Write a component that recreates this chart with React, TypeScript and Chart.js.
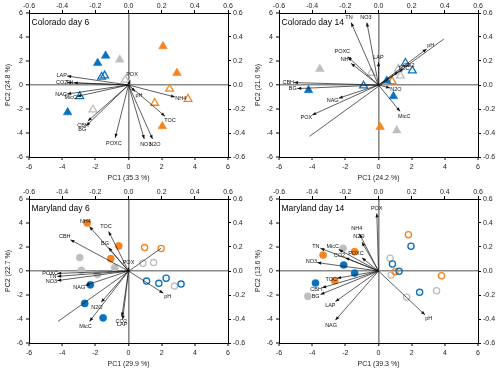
import React, { useEffect, useRef } from 'react';
import { Chart, registerables } from 'chart.js';

Chart.register(...registerables);

type Pt = [number, number];
type Vec = [string, number, number];

const FONT = '"Liberation Sans", Arial, Helvetica, sans-serif';
const BLUE = '#0A71BE';
const ORANGE = '#F5841F';
const GREY = '#BEBEBE';

// ---- labels / ticks ----
const panelTitles = ['Colorado day 6', 'Colorado day 14', 'Maryland day 6', 'Maryland day 14'];
const pc1Titles = ['PC1 (35.3 %)', 'PC1 (24.2 %)', 'PC1 (29.9 %)', 'PC1 (39.3 %)'];
const pc2Titles = ['PC2 (24.8 %)', 'PC2 (21.0 %)', 'PC2 (22.7 %)', 'PC2 (13.6 %)'];
const scoreTicks = [-6, -4, -2, 0, 2, 4, 6];
const loadingTicks = [-0.6, -0.4, -0.2, 0, 0.2, 0.4, 0.6];
const loadingTickLabels = ['-0.6', '-0.4', '-0.2', '0.0', '0.2', '0.4', '0.6'];

// ---- Colorado day 6 scores ----
const co6BlueFilled: Pt[] = [[-1.38, 2.44], [-1.86, 1.83], [-3.67, -2.28]];
const co6OrangeFilled: Pt[] = [[2.08, 3.22], [2.92, 1.0], [2.04, -3.44]];
const co6GreyFilled: Pt[] = [[-0.53, 2.11]];
const co6BlueOpen: Pt[] = [[-1.44, 0.78], [-1.62, 0.67], [-2.94, -0.94]];
const co6OrangeOpen: Pt[] = [[2.48, -0.33], [3.59, -1.17], [1.58, -1.5]];
const co6GreyOpen: Pt[] = [[-2.14, -2.06], [-0.2, 0.42]];
const co6Loadings: Vec[] = [
  ['LAP', -0.37, 0.075], ['CO2', -0.37, 0.02], ['TN', -0.33, 0.018], ['NAG', -0.37, -0.075],
  ['MicC', -0.31, -0.095], ['CBH', -0.245, -0.3], ['BG', -0.255, -0.34], ['POXC', -0.08, -0.44],
  ['NO3', 0.095, -0.45], ['N2O', 0.145, -0.45], ['TOC', 0.22, -0.26], ['NH4', 0.28, -0.1],
  ['POX', 0.01, 0.04], ['pH', 0.04, -0.055],
];
const co6Extra: Pt[] = [];

// ---- Colorado day 14 scores ----
const co14BlueFilled: Pt[] = [[-4.22, -0.44], [0.5, 0.36], [0.9, -0.94]];
const co14OrangeFilled: Pt[] = [[0.1, -3.5]];
const co14GreyFilled: Pt[] = [[-3.54, 1.33], [1.1, -3.8]];
const co14BlueOpen: Pt[] = [[-0.9, -0.06], [1.62, 1.83], [2.04, 1.2]];
const co14OrangeOpen: Pt[] = [[0.82, 0.3]];
const co14GreyOpen: Pt[] = [[-0.44, 1.0], [1.32, 0.78], [1.2, 1.35]];
const co14Loadings: Vec[] = [
  ['TN', -0.165, 0.52], ['NO3', -0.07, 0.52], ['POXC', -0.185, 0.235], ['NH4', -0.165, 0.18],
  ['LAP', 0.0, 0.19], ['CBH', -0.51, 0.02], ['BG', -0.49, -0.03], ['NAG', -0.24, -0.11],
  ['POX', -0.4, -0.25], ['pH', 0.29, 0.3], ['CO2', 0.15, 0.135], ['TOC', 0.12, 0.11],
  ['N2O', 0.07, -0.025], ['MicC', 0.13, -0.22],
];
const co14Extra: Pt[] = [[-0.416, -0.428], [0.394, 0.383]];

// ---- Maryland day 6 scores ----
const md6BlueFilled: Pt[] = [[-2.3, -1.15], [-2.64, -2.7], [-1.53, -3.9]];
const md6OrangeFilled: Pt[] = [[-2.49, 4.0], [-0.59, 2.09], [-1.07, 1.03]];
const md6GreyFilled: Pt[] = [[-2.94, 1.12], [-2.84, 0.06], [-1.88, -0.28], [-0.83, 0.28]];
const md6BlueOpen: Pt[] = [[1.09, -0.84], [1.83, -1.03], [2.27, -0.61], [3.17, -1.09]];
const md6OrangeOpen: Pt[] = [[0.97, 1.95], [1.97, 1.87]];
const md6GreyOpen: Pt[] = [[0.87, 0.64], [1.51, 0.7], [2.77, -1.26]];
const md6Loadings: Vec[] = [
  ['NH4', -0.235, 0.37], ['TOC', -0.12, 0.33], ['CBH', -0.35, 0.26], ['BG', -0.12, 0.195],
  ['POXC', -0.43, -0.02], ['TN', -0.43, -0.045], ['NO3', -0.43, -0.08], ['NAG', -0.26, -0.12],
  ['N2O', -0.165, -0.26], ['MicC', -0.235, -0.42], ['CO2', -0.04, -0.38], ['LAP', -0.035, -0.405],
  ['pH', 0.21, -0.185], ['POX', 0.0, 0.03],
];
const md6Extra: Pt[] = [[-0.425, -0.42], [0.197, 0.19]];

// ---- Maryland day 14 scores ----
const md14BlueFilled: Pt[] = [[-2.1, 0.5], [-1.44, -0.17], [-3.8, -1.0]];
const md14OrangeFilled: Pt[] = [[-3.34, 1.33], [-1.44, 1.61], [-2.64, -0.81]];
const md14GreyFilled: Pt[] = [[-4.26, -2.11], [-2.14, 1.89]];
const md14BlueOpen: Pt[] = [[1.96, 2.06], [0.84, 0.58], [1.24, -0.03], [2.48, -1.78]];
const md14OrangeOpen: Pt[] = [[1.8, 3.03], [1.0, -0.06], [3.8, -0.39]];
const md14GreyOpen: Pt[] = [[0.7, 1.06], [0.76, -0.33], [1.7, -2.19], [3.5, -1.64]];
const md14Loadings: Vec[] = [
  ['POX', -0.01, 0.48], ['NH4', -0.115, 0.31], ['N2O', -0.1, 0.24], ['TN', -0.35, 0.19],
  ['MicC', -0.24, 0.18], ['CO2', -0.2, 0.11], ['POXC', -0.1, 0.11], ['NO3', -0.37, 0.07],
  ['TOC', -0.25, -0.06], ['CBH', -0.34, -0.14], ['BG', -0.35, -0.195], ['LAP', -0.26, -0.255],
  ['NAG', -0.26, -0.41], ['pH', 0.28, -0.365],
];
const md14Extra: Pt[] = [];

interface Spec {
  idx: number;
  marker: 'triangle' | 'circle';
  groups: { pts: Pt[]; color: string; filled: boolean }[];
  loadings: Vec[];
  extra: Pt[];
}

const specs: Spec[] = [
  {
    idx: 0, marker: 'triangle', loadings: co6Loadings, extra: co6Extra,
    groups: [
      { pts: co6BlueFilled, color: BLUE, filled: true }, { pts: co6OrangeFilled, color: ORANGE, filled: true },
      { pts: co6GreyFilled, color: GREY, filled: true }, { pts: co6BlueOpen, color: BLUE, filled: false },
      { pts: co6OrangeOpen, color: ORANGE, filled: false }, { pts: co6GreyOpen, color: GREY, filled: false },
    ],
  },
  {
    idx: 1, marker: 'triangle', loadings: co14Loadings, extra: co14Extra,
    groups: [
      { pts: co14BlueFilled, color: BLUE, filled: true }, { pts: co14OrangeFilled, color: ORANGE, filled: true },
      { pts: co14GreyFilled, color: GREY, filled: true }, { pts: co14BlueOpen, color: BLUE, filled: false },
      { pts: co14OrangeOpen, color: ORANGE, filled: false }, { pts: co14GreyOpen, color: GREY, filled: false },
    ],
  },
  {
    idx: 2, marker: 'circle', loadings: md6Loadings, extra: md6Extra,
    groups: [
      { pts: md6BlueFilled, color: BLUE, filled: true }, { pts: md6OrangeFilled, color: ORANGE, filled: true },
      { pts: md6GreyFilled, color: GREY, filled: true }, { pts: md6BlueOpen, color: BLUE, filled: false },
      { pts: md6OrangeOpen, color: ORANGE, filled: false }, { pts: md6GreyOpen, color: GREY, filled: false },
    ],
  },
  {
    idx: 3, marker: 'circle', loadings: md14Loadings, extra: md14Extra,
    groups: [
      { pts: md14BlueFilled, color: BLUE, filled: true }, { pts: md14OrangeFilled, color: ORANGE, filled: true },
      { pts: md14GreyFilled, color: GREY, filled: true }, { pts: md14BlueOpen, color: BLUE, filled: false },
      { pts: md14OrangeOpen, color: ORANGE, filled: false }, { pts: md14GreyOpen, color: GREY, filled: false },
    ],
  },
];

const isZero = (c: any) => c.tick && Math.abs(c.tick.value) < 1e-9;

function biplotPlugin(title: string, vectors: Vec[]) {
  return {
    id: 'biplot' + title,
    afterDatasetsDraw(chart: any) {
      const { ctx, chartArea, scales } = chart;
      const sx = scales.x2, sy = scales.y2;
      const ox = sx.getPixelForValue(0), oy = sy.getPixelForValue(0);
      ctx.save();
      ctx.fillStyle = '#111';
      ctx.font = `5.5px ${FONT}`;
      ctx.textAlign = 'center';
      ctx.textBaseline = 'middle';
      for (const [name, lx, ly] of vectors) {
        const px = sx.getPixelForValue(lx), py = sy.getPixelForValue(ly);
        const dx = px - ox, dy = py - oy;
        const len = Math.hypot(dx, dy) || 1;
        const ux = dx / len, uy = dy / len;
        const L = 4, W = 1.6;
        ctx.beginPath();
        ctx.moveTo(px, py);
        ctx.lineTo(px - ux * L - uy * W, py - uy * L + ux * W);
        ctx.lineTo(px - ux * L + uy * W, py - uy * L - ux * W);
        ctx.closePath();
        ctx.fill();
        const w = ctx.measureText(name).width;
        const off = 1.5 + Math.abs(ux) * w * 0.35 + Math.abs(uy) * 3;
        ctx.fillText(name, px + ux * off, py + uy * off);
      }
      ctx.fillStyle = '#000';
      ctx.font = `8.5px ${FONT}`;
      ctx.textAlign = 'left';
      ctx.fillText(title, chartArea.left + 2.5, chartArea.top + 10);
      ctx.restore();
    },
  };
}

function buildConfig(spec: Spec): any {
  const datasets: any[] = [];
  for (const [, lx, ly] of spec.loadings) {
    datasets.push({
      data: [{ x: 0, y: 0 }, { x: lx, y: ly }],
      xAxisID: 'x2', yAxisID: 'y2', showLine: true,
      borderColor: '#1a1a1a', borderWidth: 0.7, pointRadius: 0,
    });
  }
  if (spec.extra.length) {
    datasets.push({
      data: spec.extra.map(([x, y]) => ({ x, y })),
      xAxisID: 'x2', yAxisID: 'y2', showLine: true,
      borderColor: '#1a1a1a', borderWidth: 0.7, pointRadius: 0,
    });
  }
  const r = spec.marker === 'triangle' ? 5 : 3.6;
  for (const g of spec.groups) {
    datasets.push({
      data: g.pts.map(([x, y]) => ({ x, y })),
      xAxisID: 'x', yAxisID: 'y',
      pointStyle: spec.marker,
      pointRadius: g.filled ? r : r - 0.5,
      pointBorderWidth: g.filled ? 0.5 : 1.3,
      pointBorderColor: g.color,
      pointBackgroundColor: g.filled ? g.color : 'rgba(255,255,255,0)',
    });
  }
  const tickFont = { family: FONT, size: 7 };
  const titleFont = { family: FONT, size: 7 };
  const baseGrid = { tickColor: '#000', tickLength: 3, tickWidth: 1 };
  return {
    type: 'scatter',
    data: { datasets },
    options: {
      animation: false,
      responsive: false,
      devicePixelRatio: 1,
      layout: { padding: 0 },
      plugins: { legend: { display: false }, tooltip: { enabled: false } },
      scales: {
        x: {
          type: 'linear', position: 'bottom', min: -6, max: 6,
          afterBuildTicks: (s: any) => { s.ticks = scoreTicks.map((v) => ({ value: v })); },
          ticks: { font: tickFont, color: '#222', padding: 3, maxRotation: 0, autoSkip: false, callback: (v: any) => String(v) },
          grid: { ...baseGrid, color: (c: any) => (isZero(c) ? '#8a8a8a' : 'rgba(0,0,0,0)'), lineWidth: (c: any) => (isZero(c) ? 1.6 : 0) },
          border: { display: true, color: '#000', width: 1 },
          title: { display: true, text: pc1Titles[spec.idx], font: titleFont, color: '#222', padding: { top: 0, bottom: 3.8 } },
          afterFit: (s: any) => { s.height = 29; },
        },
        y: {
          type: 'linear', position: 'left', min: -6, max: 6,
          afterBuildTicks: (s: any) => { s.ticks = scoreTicks.map((v) => ({ value: v })); },
          ticks: { font: tickFont, color: '#222', padding: 3, autoSkip: false, callback: (v: any) => String(v) },
          grid: { ...baseGrid, color: (c: any) => (isZero(c) ? '#8a8a8a' : 'rgba(0,0,0,0)'), lineWidth: (c: any) => (isZero(c) ? 1.6 : 0) },
          border: { display: true, color: '#000', width: 1 },
          title: { display: true, text: pc2Titles[spec.idx], font: titleFont, color: '#222', padding: { top: 4, bottom: 0 } },
          afterFit: (s: any) => { s.width = 29; },
        },
        x2: {
          type: 'linear', position: 'top', min: -0.6, max: 0.6,
          afterBuildTicks: (s: any) => { s.ticks = loadingTicks.map((v) => ({ value: v })); },
          ticks: { font: tickFont, color: '#222', padding: 0, maxRotation: 0, autoSkip: false, callback: (_v: any, i: number) => loadingTickLabels[i] },
          grid: { ...baseGrid, drawOnChartArea: false, color: 'rgba(0,0,0,0)' },
          border: { display: true, color: '#000', width: 1 },
          afterFit: (s: any) => { s.height = 13; },
        },
        y2: {
          type: 'linear', position: 'right', min: -0.6, max: 0.6,
          afterBuildTicks: (s: any) => { s.ticks = loadingTicks.map((v) => ({ value: v })); },
          ticks: { font: tickFont, color: '#222', padding: 2, autoSkip: false, callback: (_v: any, i: number) => loadingTickLabels[i] },
          grid: { ...baseGrid, drawOnChartArea: false, color: 'rgba(0,0,0,0)' },
          border: { display: true, color: '#000', width: 1 },
          afterFit: (s: any) => { s.width = 22; },
        },
      },
    },
    plugins: [biplotPlugin(panelTitles[spec.idx], spec.loadings)],
  };
}

function Panel({ spec, left, top }: { spec: Spec; left: number; top: number }) {
  const ref = useRef<HTMLCanvasElement>(null);
  useEffect(() => {
    if (!ref.current) return;
    const chart = new Chart(ref.current, buildConfig(spec));
    return () => chart.destroy();
  }, [spec]);
  return (
    <canvas
      ref={ref}
      width={250}
      height={186}
      style={{ position: 'absolute', left, top, width: 250, height: 186 }}
    />
  );
}

export default function App() {
  return (
    <div style={{ position: 'absolute', left: 0, top: 0, width: 500, height: 372, background: '#fff', overflow: 'hidden' }}>
      <Panel spec={specs[0]} left={0} top={0} />
      <Panel spec={specs[1]} left={250} top={0} />
      <Panel spec={specs[2]} left={0} top={186} />
      <Panel spec={specs[3]} left={250} top={186} />
    </div>
  );
}
